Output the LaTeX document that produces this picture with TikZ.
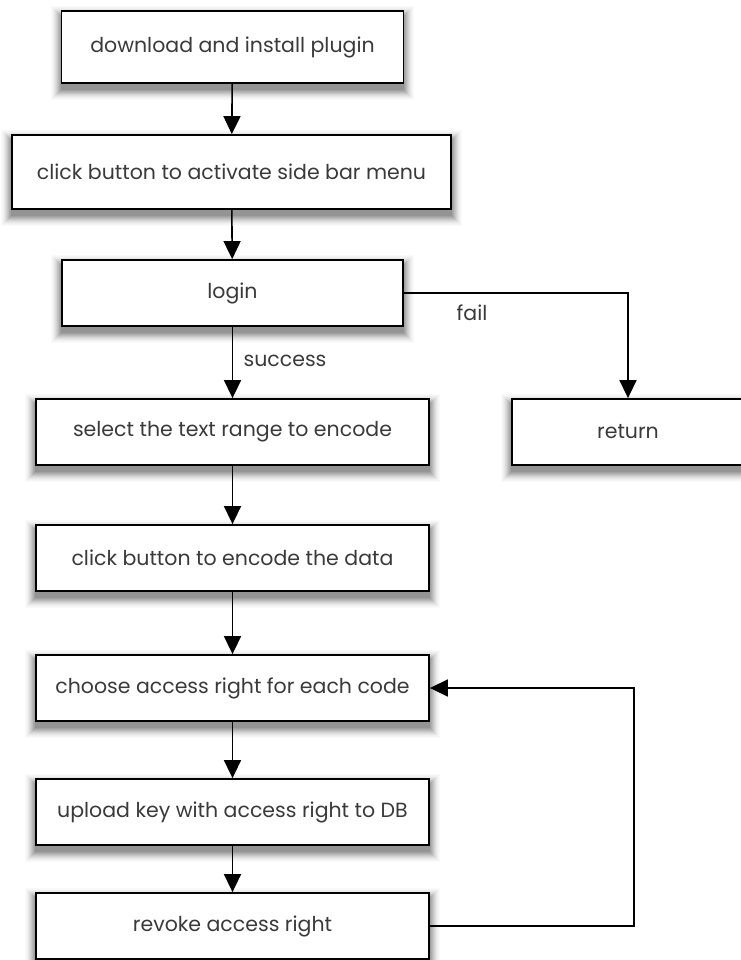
\documentclass[tikz,border=0pt]{standalone}
\usepackage{fontspec}
\setmainfont{Poppins}
\usetikzlibrary{arrows.meta,backgrounds}
\definecolor{txt}{HTML}{3A3A3A}
\tikzset{
  stepbox/.style={draw=black, line width=1.8pt, fill=white, rectangle, inner sep=0pt,
    minimum height=66pt, text=txt, font=\fontsize{20.5}{24}\selectfont},
  arr/.style={draw=black, line width=1.6pt, -{Triangle[length=18pt,width=17pt]}},
  lbl/.style={text=txt, font=\fontsize{20.5}{24}\selectfont, inner sep=0pt}
}
\newcommand\mydropsh[1]{%
  \begin{pgfonlayer}{background}
  \foreach \e/\c in {10/2,9/4,8/6,7/9,6/13,5/17,4/22,3/27,2/32,1/37,0/42}{%
    \fill[black!\c] ([xshift=-\e pt, yshift=-6pt-\e pt]#1.south west) rectangle ([xshift=\e pt, yshift=-6pt+\e pt]#1.north east);
  }
  \end{pgfonlayer}}
\begin{document}
\begin{tikzpicture}[x=1pt,y=-1pt]
\useasboundingbox (0,0) rectangle (740,960);
\node[stepbox, minimum width=342pt, minimum height=72pt] (b1) at (232.5,47) {download and install plugin};
\node[stepbox, minimum width=439pt, minimum height=74pt] (b2) at (231.5,172) {click button to activate side bar menu};
\node[stepbox, minimum width=341pt] (login) at (232.5,293) {login};
\node[stepbox, minimum width=393pt] (sel) at (232.5,432) {select the text range to encode};
\node[stepbox, minimum width=232pt] (ret) at (628,432) {return};
\node[stepbox, minimum width=393pt] (enc) at (232.5,558) {click button to encode the data};
\node[stepbox, minimum width=393pt] (cho) at (232.5,688) {choose access right for each code};
\node[stepbox, minimum width=393pt] (upl) at (232.5,812) {upload key with access right to DB};
\node[stepbox, minimum width=393pt] (rev) at (232.5,926) {revoke access right};
\foreach \n in {b1,b2,login,sel,ret,enc,cho,upl,rev}{\mydropsh{\n}}
\node[lbl] (succ) at (285,361) {success};
\node[lbl] (fail) at (472,313) {fail};
\coordinate (lp) at (634,926);
\draw[arr] (b1) -- (b2);
\draw[arr] (b2) -- (login);
\draw[arr] (login) -- (sel);
\draw[arr] (login.east) -| (ret.north);
\draw[arr] (sel) -- (enc);
\draw[arr] (enc) -- (cho);
\draw[arr] (cho) -- (upl);
\draw[arr] (upl) -- (rev);
\draw[arr] (rev.east) -- (lp) |- (cho.east);
\end{tikzpicture}
\end{document}
